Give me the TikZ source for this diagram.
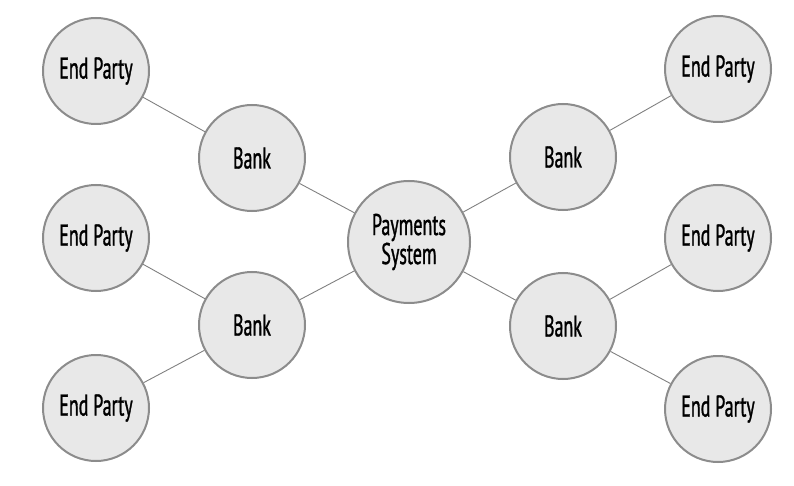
\documentclass[tikz,border=0pt]{standalone}
\usepackage{fontspec}
\setmainfont{PT Sans}[FakeStretch=0.6, FakeBold=1.0]
\definecolor{discfill}{HTML}{E8E8E8}
\definecolor{discline}{HTML}{8C8C8C}
\definecolor{wire}{HTML}{808080}
\tikzset{
    disc/.style={circle, fill=discfill, draw=discline, line width=2pt, minimum size=106pt, inner sep=0pt, align=center, font=\fontsize{30}{29}\selectfont, text=black},
    bigdisc/.style={disc, minimum size=122pt},
    wire/.style={draw=wire, line width=0.9pt}
}
\begin{document}
\begin{tikzpicture}[x=1pt, y=-1pt]
        \useasboundingbox (0,0) rectangle (794,486);

        \node[disc] (ep1) at (96,71) {End Party};
        \node[disc] (ep2) at (96,238) {End Party};
        \node[disc] (ep3) at (96,408) {End Party};
        \node[disc] (bk1) at (252,158) {Bank};
        \node[disc] (bk2) at (252,325) {Bank};
        \node[bigdisc] (ps) at (409,242) {Payments\\System};
        \node[disc] (bk3) at (563,157) {Bank};
        \node[disc] (bk4) at (563,326) {Bank};
        \node[disc] (ep4) at (718,69) {End Party};
        \node[disc] (ep5) at (718,238) {End Party};
        \node[disc] (ep6) at (718,409) {End Party};

        \draw[wire] (ep1) -- (bk1);
        \draw[wire] (ep2) -- (bk2);
        \draw[wire] (ep3) -- (bk2);
        \draw[wire] (bk1) -- (ps);
        \draw[wire] (bk2) -- (ps);
        \draw[wire] (ps) -- (bk3);
        \draw[wire] (ps) -- (bk4);
        \draw[wire] (bk3) -- (ep4);
        \draw[wire] (bk4) -- (ep5);
        \draw[wire] (bk4) -- (ep6);
    \end{tikzpicture}
\end{document}
